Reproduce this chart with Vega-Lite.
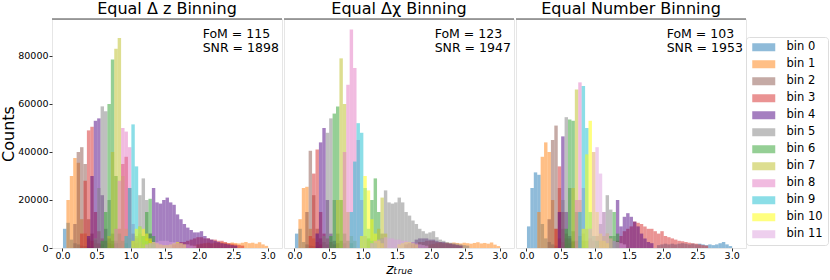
{
"$schema": "https://vega.github.io/schema/vega-lite/v6.json",
"background": "white",
"padding": {"left": 0, "top": 0, "right": 0, "bottom": 0},
"spacing": 0,
"config": {
  "font": "DejaVu Sans",
  "view": {"stroke": "#e6e6e6", "strokeWidth": 1},
  "title": {"fontSize": 16, "fontWeight": "normal", "color": "#000", "offset": 2, "anchor": "middle"},
  "axis": {"domain": false, "grid": false, "tickColor": "#333", "tickSize": 3, "labelFontSize": 9.5, "labelColor": "#000", "labelPadding": 1, "titleColor": "#000", "titleFontWeight": "normal"},
  "axisX": {"labelPadding": -1},
  "legend": {"orient": "none", "legendX": 694, "legendY": 18, "padding": 4.5, "strokeColor": "#dddddd", "cornerRadius": 3, "symbolType": "M-2.875,-1H2.875V1H-2.875Z", "symbolSize": 64, "symbolOpacity": 0.5, "symbolStrokeWidth": 0, "symbolOffset": 7.5, "labelFontSize": 11.5, "labelColor": "#000", "rowPadding": 4, "labelOffset": 17}
},
"datasets": {"h": [
{"p":0,"b":"bin 0","z":0.0,"c":8000},{"p":0,"b":"bin 0","z":0.05,"c":10500},{"p":0,"b":"bin 0","z":0.1,"c":3500},{"p":0,"b":"bin 0","z":0.15,"c":2000},{"p":0,"b":"bin 0","z":0.2,"c":1500},{"p":0,"b":"bin 0","z":0.25,"c":1000},{"p":0,"b":"bin 0","z":0.3,"c":800},{"p":0,"b":"bin 0","z":0.35,"c":600},{"p":0,"b":"bin 0","z":0.4,"c":500},
{"p":0,"b":"bin 1","z":0.05,"c":20000},{"p":0,"b":"bin 1","z":0.1,"c":30000},{"p":0,"b":"bin 1","z":0.15,"c":37500},{"p":0,"b":"bin 1","z":0.2,"c":35500},{"p":0,"b":"bin 1","z":0.25,"c":12000},{"p":0,"b":"bin 1","z":0.3,"c":6000},{"p":0,"b":"bin 1","z":0.35,"c":4000},{"p":0,"b":"bin 1","z":0.4,"c":3000},{"p":0,"b":"bin 1","z":0.45,"c":2000},{"p":0,"b":"bin 1","z":0.5,"c":1500},
{"p":0,"b":"bin 1","z":1.9,"c":1200},{"p":0,"b":"bin 1","z":1.95,"c":1500},{"p":0,"b":"bin 1","z":2.0,"c":1800},{"p":0,"b":"bin 1","z":2.05,"c":2000},{"p":0,"b":"bin 1","z":2.1,"c":2200},{"p":0,"b":"bin 1","z":2.15,"c":1900},{"p":0,"b":"bin 1","z":2.2,"c":2300},{"p":0,"b":"bin 1","z":2.25,"c":2100},{"p":0,"b":"bin 1","z":2.3,"c":2400},{"p":0,"b":"bin 1","z":2.35,"c":2200},{"p":0,"b":"bin 1","z":2.4,"c":2000},{"p":0,"b":"bin 1","z":2.45,"c":2300},{"p":0,"b":"bin 1","z":2.5,"c":2100},{"p":0,"b":"bin 1","z":2.55,"c":1900},{"p":0,"b":"bin 1","z":2.6,"c":2200},{"p":0,"b":"bin 1","z":2.65,"c":2500},{"p":0,"b":"bin 1","z":2.7,"c":2000},{"p":0,"b":"bin 1","z":2.75,"c":2200},{"p":0,"b":"bin 1","z":2.8,"c":1800},{"p":0,"b":"bin 1","z":2.85,"c":2400},{"p":0,"b":"bin 1","z":2.9,"c":1500},{"p":0,"b":"bin 1","z":2.95,"c":900},
{"p":0,"b":"bin 2","z":0.15,"c":10000},{"p":0,"b":"bin 2","z":0.2,"c":40000},{"p":0,"b":"bin 2","z":0.25,"c":42000},{"p":0,"b":"bin 2","z":0.3,"c":35000},{"p":0,"b":"bin 2","z":0.35,"c":12000},{"p":0,"b":"bin 2","z":0.4,"c":6000},{"p":0,"b":"bin 2","z":0.45,"c":3500},{"p":0,"b":"bin 2","z":0.5,"c":2000},{"p":0,"b":"bin 2","z":0.55,"c":1500},
{"p":0,"b":"bin 3","z":0.25,"c":6000},{"p":0,"b":"bin 3","z":0.3,"c":28000},{"p":0,"b":"bin 3","z":0.35,"c":49000},{"p":0,"b":"bin 3","z":0.4,"c":50500},{"p":0,"b":"bin 3","z":0.45,"c":15000},{"p":0,"b":"bin 3","z":0.5,"c":7000},{"p":0,"b":"bin 3","z":0.55,"c":4000},{"p":0,"b":"bin 3","z":0.6,"c":3000},{"p":0,"b":"bin 3","z":0.65,"c":2000},{"p":0,"b":"bin 3","z":0.7,"c":1500},
{"p":0,"b":"bin 3","z":0.8,"c":8000},{"p":0,"b":"bin 3","z":0.85,"c":35000},{"p":0,"b":"bin 3","z":0.9,"c":38000},{"p":0,"b":"bin 3","z":0.95,"c":25000},{"p":0,"b":"bin 3","z":1.0,"c":6000},{"p":0,"b":"bin 3","z":1.05,"c":2000},
{"p":0,"b":"bin 3","z":1.6,"c":1500},{"p":0,"b":"bin 3","z":1.65,"c":2000},{"p":0,"b":"bin 3","z":1.7,"c":2500},{"p":0,"b":"bin 3","z":1.75,"c":2500},{"p":0,"b":"bin 3","z":1.8,"c":3000},{"p":0,"b":"bin 3","z":1.85,"c":3500},{"p":0,"b":"bin 3","z":1.9,"c":4000},{"p":0,"b":"bin 3","z":1.95,"c":4500},{"p":0,"b":"bin 3","z":2.0,"c":4500},{"p":0,"b":"bin 3","z":2.05,"c":4000},{"p":0,"b":"bin 3","z":2.1,"c":4000},{"p":0,"b":"bin 3","z":2.15,"c":3500},{"p":0,"b":"bin 3","z":2.2,"c":3500},{"p":0,"b":"bin 3","z":2.25,"c":3000},{"p":0,"b":"bin 3","z":2.3,"c":3000},{"p":0,"b":"bin 3","z":2.35,"c":2500},{"p":0,"b":"bin 3","z":2.4,"c":2000},{"p":0,"b":"bin 3","z":2.45,"c":1800},{"p":0,"b":"bin 3","z":2.5,"c":1500},{"p":0,"b":"bin 3","z":2.55,"c":1200},{"p":0,"b":"bin 3","z":2.6,"c":1000},
{"p":0,"b":"bin 4","z":0.35,"c":5000},{"p":0,"b":"bin 4","z":0.4,"c":30000},{"p":0,"b":"bin 4","z":0.45,"c":53000},{"p":0,"b":"bin 4","z":0.5,"c":54000},{"p":0,"b":"bin 4","z":0.55,"c":22000},{"p":0,"b":"bin 4","z":0.6,"c":8000},{"p":0,"b":"bin 4","z":0.65,"c":4000},{"p":0,"b":"bin 4","z":0.7,"c":3000},{"p":0,"b":"bin 4","z":0.75,"c":2000},
{"p":0,"b":"bin 4","z":1.25,"c":6000},{"p":0,"b":"bin 4","z":1.3,"c":25000},{"p":0,"b":"bin 4","z":1.35,"c":19000},{"p":0,"b":"bin 4","z":1.4,"c":18500},{"p":0,"b":"bin 4","z":1.45,"c":20000},{"p":0,"b":"bin 4","z":1.5,"c":21000},{"p":0,"b":"bin 4","z":1.55,"c":19000},{"p":0,"b":"bin 4","z":1.6,"c":18000},{"p":0,"b":"bin 4","z":1.65,"c":14000},{"p":0,"b":"bin 4","z":1.7,"c":12000},{"p":0,"b":"bin 4","z":1.75,"c":10000},{"p":0,"b":"bin 4","z":1.8,"c":8500},{"p":0,"b":"bin 4","z":1.85,"c":7500},{"p":0,"b":"bin 4","z":1.9,"c":6500},{"p":0,"b":"bin 4","z":1.95,"c":6500},{"p":0,"b":"bin 4","z":2.0,"c":7000},{"p":0,"b":"bin 4","z":2.05,"c":5000},{"p":0,"b":"bin 4","z":2.1,"c":4000},{"p":0,"b":"bin 4","z":2.15,"c":3500},{"p":0,"b":"bin 4","z":2.2,"c":3000},{"p":0,"b":"bin 4","z":2.25,"c":2500},{"p":0,"b":"bin 4","z":2.3,"c":2000},{"p":0,"b":"bin 4","z":2.35,"c":1800},{"p":0,"b":"bin 4","z":2.4,"c":1500},{"p":0,"b":"bin 4","z":2.45,"c":1200},{"p":0,"b":"bin 4","z":2.5,"c":1000},
{"p":0,"b":"bin 5","z":0.45,"c":4000},{"p":0,"b":"bin 5","z":0.5,"c":25000},{"p":0,"b":"bin 5","z":0.55,"c":59000},{"p":0,"b":"bin 5","z":0.6,"c":57000},{"p":0,"b":"bin 5","z":0.65,"c":20000},{"p":0,"b":"bin 5","z":0.7,"c":6000},{"p":0,"b":"bin 5","z":0.75,"c":3000},{"p":0,"b":"bin 5","z":0.8,"c":2000},
{"p":0,"b":"bin 5","z":1.05,"c":5000},{"p":0,"b":"bin 5","z":1.1,"c":22000},{"p":0,"b":"bin 5","z":1.15,"c":29000},{"p":0,"b":"bin 5","z":1.2,"c":20000},{"p":0,"b":"bin 5","z":1.25,"c":6000},{"p":0,"b":"bin 5","z":1.3,"c":2000},
{"p":0,"b":"bin 6","z":0.55,"c":3000},{"p":0,"b":"bin 6","z":0.6,"c":15000},{"p":0,"b":"bin 6","z":0.65,"c":60000},{"p":0,"b":"bin 6","z":0.7,"c":78500},{"p":0,"b":"bin 6","z":0.75,"c":30000},{"p":0,"b":"bin 6","z":0.8,"c":6000},{"p":0,"b":"bin 6","z":0.85,"c":3000},{"p":0,"b":"bin 6","z":0.9,"c":2000},
{"p":0,"b":"bin 6","z":1.15,"c":5000},{"p":0,"b":"bin 6","z":1.2,"c":15000},{"p":0,"b":"bin 6","z":1.25,"c":20500},{"p":0,"b":"bin 6","z":1.3,"c":5000},
{"p":0,"b":"bin 7","z":0.65,"c":5000},{"p":0,"b":"bin 7","z":0.7,"c":40000},{"p":0,"b":"bin 7","z":0.75,"c":83000},{"p":0,"b":"bin 7","z":0.8,"c":87500},{"p":0,"b":"bin 7","z":0.85,"c":30000},{"p":0,"b":"bin 7","z":0.9,"c":8000},{"p":0,"b":"bin 7","z":0.95,"c":4000},{"p":0,"b":"bin 7","z":1.0,"c":3000},{"p":0,"b":"bin 7","z":1.05,"c":4000},{"p":0,"b":"bin 7","z":1.1,"c":6000},{"p":0,"b":"bin 7","z":1.15,"c":5000},{"p":0,"b":"bin 7","z":1.2,"c":4000},{"p":0,"b":"bin 7","z":1.25,"c":3000},
{"p":0,"b":"bin 8","z":0.75,"c":8000},{"p":0,"b":"bin 8","z":0.8,"c":28000},{"p":0,"b":"bin 8","z":0.85,"c":50000},{"p":0,"b":"bin 8","z":0.9,"c":48500},{"p":0,"b":"bin 8","z":0.95,"c":42000},{"p":0,"b":"bin 8","z":1.0,"c":10000},{"p":0,"b":"bin 8","z":1.05,"c":4000},{"p":0,"b":"bin 8","z":1.1,"c":2500},{"p":0,"b":"bin 8","z":1.15,"c":1500},
{"p":0,"b":"bin 9","z":0.9,"c":5000},{"p":0,"b":"bin 9","z":0.95,"c":25000},{"p":0,"b":"bin 9","z":1.0,"c":51500},{"p":0,"b":"bin 9","z":1.05,"c":34000},{"p":0,"b":"bin 9","z":1.1,"c":9000},{"p":0,"b":"bin 9","z":1.15,"c":5000},{"p":0,"b":"bin 9","z":1.2,"c":3000},{"p":0,"b":"bin 9","z":1.25,"c":2000},{"p":0,"b":"bin 9","z":1.3,"c":1500},
{"p":0,"b":"bin 10","z":1.0,"c":3000},{"p":0,"b":"bin 10","z":1.05,"c":8000},{"p":0,"b":"bin 10","z":1.1,"c":9000},{"p":0,"b":"bin 10","z":1.15,"c":8000},{"p":0,"b":"bin 10","z":1.2,"c":6000},{"p":0,"b":"bin 10","z":1.25,"c":4000},{"p":0,"b":"bin 10","z":1.3,"c":2500},{"p":0,"b":"bin 10","z":1.35,"c":2000},{"p":0,"b":"bin 10","z":1.4,"c":1500},{"p":0,"b":"bin 10","z":1.45,"c":1200},{"p":0,"b":"bin 10","z":1.5,"c":1200},{"p":0,"b":"bin 10","z":1.55,"c":1500},{"p":0,"b":"bin 10","z":1.6,"c":2000},{"p":0,"b":"bin 10","z":1.65,"c":2500},{"p":0,"b":"bin 10","z":1.7,"c":2000},{"p":0,"b":"bin 10","z":1.75,"c":1500},
{"p":0,"b":"bin 11","z":1.2,"c":1500},{"p":0,"b":"bin 11","z":1.25,"c":2000},{"p":0,"b":"bin 11","z":1.3,"c":2500},{"p":0,"b":"bin 11","z":1.35,"c":2500},{"p":0,"b":"bin 11","z":1.4,"c":3000},{"p":0,"b":"bin 11","z":1.45,"c":3000},{"p":0,"b":"bin 11","z":1.5,"c":3000},{"p":0,"b":"bin 11","z":1.55,"c":2500},{"p":0,"b":"bin 11","z":1.6,"c":2500},{"p":0,"b":"bin 11","z":1.65,"c":2000},{"p":0,"b":"bin 11","z":1.7,"c":2000},{"p":0,"b":"bin 11","z":1.75,"c":1500},{"p":0,"b":"bin 11","z":1.8,"c":1500},{"p":0,"b":"bin 11","z":1.85,"c":1000},{"p":0,"b":"bin 11","z":1.9,"c":1000},

{"p":1,"b":"bin 0","z":0.0,"c":6000},{"p":1,"b":"bin 0","z":0.05,"c":8000},{"p":1,"b":"bin 0","z":0.1,"c":2500},{"p":1,"b":"bin 0","z":0.15,"c":1500},{"p":1,"b":"bin 0","z":0.2,"c":1000},{"p":1,"b":"bin 0","z":0.25,"c":800},{"p":1,"b":"bin 0","z":0.3,"c":600},
{"p":1,"b":"bin 1","z":0.05,"c":12000},{"p":1,"b":"bin 1","z":0.1,"c":25000},{"p":1,"b":"bin 1","z":0.15,"c":25500},{"p":1,"b":"bin 1","z":0.2,"c":8000},{"p":1,"b":"bin 1","z":0.25,"c":4000},{"p":1,"b":"bin 1","z":0.3,"c":2500},{"p":1,"b":"bin 1","z":0.35,"c":1500},
{"p":1,"b":"bin 1","z":1.9,"c":1200},{"p":1,"b":"bin 1","z":1.95,"c":1500},{"p":1,"b":"bin 1","z":2.0,"c":1700},{"p":1,"b":"bin 1","z":2.05,"c":2000},{"p":1,"b":"bin 1","z":2.1,"c":2100},{"p":1,"b":"bin 1","z":2.15,"c":1900},{"p":1,"b":"bin 1","z":2.2,"c":2200},{"p":1,"b":"bin 1","z":2.25,"c":2000},{"p":1,"b":"bin 1","z":2.3,"c":2300},{"p":1,"b":"bin 1","z":2.35,"c":2100},{"p":1,"b":"bin 1","z":2.4,"c":1900},{"p":1,"b":"bin 1","z":2.45,"c":2200},{"p":1,"b":"bin 1","z":2.5,"c":2000},{"p":1,"b":"bin 1","z":2.55,"c":1800},{"p":1,"b":"bin 1","z":2.6,"c":2100},{"p":1,"b":"bin 1","z":2.65,"c":2400},{"p":1,"b":"bin 1","z":2.7,"c":1900},{"p":1,"b":"bin 1","z":2.75,"c":2100},{"p":1,"b":"bin 1","z":2.8,"c":1800},{"p":1,"b":"bin 1","z":2.85,"c":2300},{"p":1,"b":"bin 1","z":2.9,"c":1400},{"p":1,"b":"bin 1","z":2.95,"c":800},
{"p":1,"b":"bin 2","z":0.15,"c":15000},{"p":1,"b":"bin 2","z":0.2,"c":40500},{"p":1,"b":"bin 2","z":0.25,"c":22000},{"p":1,"b":"bin 2","z":0.3,"c":8000},{"p":1,"b":"bin 2","z":0.35,"c":4000},{"p":1,"b":"bin 2","z":0.4,"c":2500},{"p":1,"b":"bin 2","z":0.45,"c":1500},
{"p":1,"b":"bin 3","z":0.2,"c":5000},{"p":1,"b":"bin 3","z":0.25,"c":31000},{"p":1,"b":"bin 3","z":0.3,"c":41000},{"p":1,"b":"bin 3","z":0.35,"c":15000},{"p":1,"b":"bin 3","z":0.4,"c":6000},{"p":1,"b":"bin 3","z":0.45,"c":4000},{"p":1,"b":"bin 3","z":0.5,"c":2500},{"p":1,"b":"bin 3","z":0.55,"c":1500},
{"p":1,"b":"bin 3","z":1.7,"c":1500},{"p":1,"b":"bin 3","z":1.75,"c":2000},{"p":1,"b":"bin 3","z":1.8,"c":2500},{"p":1,"b":"bin 3","z":1.85,"c":2500},{"p":1,"b":"bin 3","z":1.9,"c":3000},{"p":1,"b":"bin 3","z":1.95,"c":3000},{"p":1,"b":"bin 3","z":2.0,"c":3000},{"p":1,"b":"bin 3","z":2.05,"c":2500},{"p":1,"b":"bin 3","z":2.1,"c":2500},{"p":1,"b":"bin 3","z":2.15,"c":2200},{"p":1,"b":"bin 3","z":2.2,"c":2000},{"p":1,"b":"bin 3","z":2.25,"c":1800},{"p":1,"b":"bin 3","z":2.3,"c":1500},{"p":1,"b":"bin 3","z":2.35,"c":1200},{"p":1,"b":"bin 3","z":2.4,"c":1000},
{"p":1,"b":"bin 4","z":0.3,"c":6000},{"p":1,"b":"bin 4","z":0.35,"c":44000},{"p":1,"b":"bin 4","z":0.4,"c":50000},{"p":1,"b":"bin 4","z":0.45,"c":20000},{"p":1,"b":"bin 4","z":0.5,"c":6000},{"p":1,"b":"bin 4","z":0.55,"c":3000},{"p":1,"b":"bin 4","z":0.6,"c":2000},
{"p":1,"b":"bin 4","z":1.6,"c":1500},{"p":1,"b":"bin 4","z":1.65,"c":2000},{"p":1,"b":"bin 4","z":1.7,"c":2500},{"p":1,"b":"bin 4","z":1.75,"c":3500},{"p":1,"b":"bin 4","z":1.8,"c":4000},{"p":1,"b":"bin 4","z":1.85,"c":4000},{"p":1,"b":"bin 4","z":1.9,"c":4000},{"p":1,"b":"bin 4","z":1.95,"c":3500},{"p":1,"b":"bin 4","z":2.0,"c":3500},{"p":1,"b":"bin 4","z":2.05,"c":3000},{"p":1,"b":"bin 4","z":2.1,"c":2500},{"p":1,"b":"bin 4","z":2.15,"c":2500},{"p":1,"b":"bin 4","z":2.2,"c":2000},{"p":1,"b":"bin 4","z":2.25,"c":1800},{"p":1,"b":"bin 4","z":2.3,"c":1500},{"p":1,"b":"bin 4","z":2.35,"c":1200},{"p":1,"b":"bin 4","z":2.4,"c":1000},
{"p":1,"b":"bin 5","z":0.4,"c":5000},{"p":1,"b":"bin 5","z":0.45,"c":48000},{"p":1,"b":"bin 5","z":0.5,"c":54000},{"p":1,"b":"bin 5","z":0.55,"c":20000},{"p":1,"b":"bin 5","z":0.6,"c":6000},{"p":1,"b":"bin 5","z":0.65,"c":3000},{"p":1,"b":"bin 5","z":0.7,"c":2000},
{"p":1,"b":"bin 5","z":1.25,"c":6000},{"p":1,"b":"bin 5","z":1.3,"c":24000},{"p":1,"b":"bin 5","z":1.35,"c":19000},{"p":1,"b":"bin 5","z":1.4,"c":18500},{"p":1,"b":"bin 5","z":1.45,"c":19000},{"p":1,"b":"bin 5","z":1.5,"c":21000},{"p":1,"b":"bin 5","z":1.55,"c":19000},{"p":1,"b":"bin 5","z":1.6,"c":15000},{"p":1,"b":"bin 5","z":1.65,"c":13500},{"p":1,"b":"bin 5","z":1.7,"c":11500},{"p":1,"b":"bin 5","z":1.75,"c":10000},{"p":1,"b":"bin 5","z":1.8,"c":8000},{"p":1,"b":"bin 5","z":1.85,"c":7000},{"p":1,"b":"bin 5","z":1.9,"c":6000},{"p":1,"b":"bin 5","z":1.95,"c":6500},{"p":1,"b":"bin 5","z":2.0,"c":7000},{"p":1,"b":"bin 5","z":2.05,"c":4500},{"p":1,"b":"bin 5","z":2.1,"c":3500},{"p":1,"b":"bin 5","z":2.15,"c":3000},{"p":1,"b":"bin 5","z":2.2,"c":2500},{"p":1,"b":"bin 5","z":2.25,"c":2200},{"p":1,"b":"bin 5","z":2.3,"c":2000},{"p":1,"b":"bin 5","z":2.35,"c":1800},{"p":1,"b":"bin 5","z":2.4,"c":1500},{"p":1,"b":"bin 5","z":2.45,"c":1200},{"p":1,"b":"bin 5","z":2.5,"c":1000},
{"p":1,"b":"bin 6","z":0.5,"c":5000},{"p":1,"b":"bin 6","z":0.55,"c":56000},{"p":1,"b":"bin 6","z":0.6,"c":59000},{"p":1,"b":"bin 6","z":0.65,"c":20000},{"p":1,"b":"bin 6","z":0.7,"c":6000},{"p":1,"b":"bin 6","z":0.75,"c":3000},{"p":1,"b":"bin 6","z":0.8,"c":2000},
{"p":1,"b":"bin 6","z":1.05,"c":4000},{"p":1,"b":"bin 6","z":1.1,"c":20000},{"p":1,"b":"bin 6","z":1.15,"c":29000},{"p":1,"b":"bin 6","z":1.2,"c":15000},{"p":1,"b":"bin 6","z":1.25,"c":4000},
{"p":1,"b":"bin 7","z":0.6,"c":20000},{"p":1,"b":"bin 7","z":0.65,"c":79000},{"p":1,"b":"bin 7","z":0.7,"c":60000},{"p":1,"b":"bin 7","z":0.75,"c":15000},{"p":1,"b":"bin 7","z":0.8,"c":5000},{"p":1,"b":"bin 7","z":0.85,"c":3000},
{"p":1,"b":"bin 7","z":1.15,"c":3000},{"p":1,"b":"bin 7","z":1.2,"c":8000},{"p":1,"b":"bin 7","z":1.25,"c":21000},{"p":1,"b":"bin 7","z":1.3,"c":6000},
{"p":1,"b":"bin 8","z":0.7,"c":40000},{"p":1,"b":"bin 8","z":0.75,"c":68000},{"p":1,"b":"bin 8","z":0.8,"c":91000},{"p":1,"b":"bin 8","z":0.85,"c":75000},{"p":1,"b":"bin 8","z":0.9,"c":45000},{"p":1,"b":"bin 8","z":0.95,"c":20000},{"p":1,"b":"bin 8","z":1.0,"c":5000},{"p":1,"b":"bin 8","z":1.05,"c":3000},{"p":1,"b":"bin 8","z":1.1,"c":2000},
{"p":1,"b":"bin 9","z":0.8,"c":15000},{"p":1,"b":"bin 9","z":0.85,"c":36000},{"p":1,"b":"bin 9","z":0.9,"c":52000},{"p":1,"b":"bin 9","z":0.95,"c":48000},{"p":1,"b":"bin 9","z":1.0,"c":25000},{"p":1,"b":"bin 9","z":1.05,"c":8000},{"p":1,"b":"bin 9","z":1.1,"c":3000},{"p":1,"b":"bin 9","z":1.15,"c":2000},
{"p":1,"b":"bin 10","z":0.95,"c":5000},{"p":1,"b":"bin 10","z":1.0,"c":30000},{"p":1,"b":"bin 10","z":1.05,"c":24000},{"p":1,"b":"bin 10","z":1.1,"c":12000},{"p":1,"b":"bin 10","z":1.15,"c":6000},{"p":1,"b":"bin 10","z":1.2,"c":3000},{"p":1,"b":"bin 10","z":1.25,"c":2000},{"p":1,"b":"bin 10","z":1.5,"c":1500},{"p":1,"b":"bin 10","z":1.55,"c":2000},{"p":1,"b":"bin 10","z":1.6,"c":2500},{"p":1,"b":"bin 10","z":1.65,"c":2500},{"p":1,"b":"bin 10","z":1.7,"c":2000},{"p":1,"b":"bin 10","z":1.75,"c":1500},
{"p":1,"b":"bin 11","z":1.1,"c":2000},{"p":1,"b":"bin 11","z":1.15,"c":3000},{"p":1,"b":"bin 11","z":1.2,"c":3500},{"p":1,"b":"bin 11","z":1.25,"c":4000},{"p":1,"b":"bin 11","z":1.3,"c":4500},{"p":1,"b":"bin 11","z":1.35,"c":4000},{"p":1,"b":"bin 11","z":1.4,"c":4000},{"p":1,"b":"bin 11","z":1.45,"c":3500},{"p":1,"b":"bin 11","z":1.5,"c":3500},{"p":1,"b":"bin 11","z":1.55,"c":3000},{"p":1,"b":"bin 11","z":1.6,"c":3000},{"p":1,"b":"bin 11","z":1.65,"c":2500},{"p":1,"b":"bin 11","z":1.7,"c":2500},{"p":1,"b":"bin 11","z":1.75,"c":2000},{"p":1,"b":"bin 11","z":1.8,"c":1500},{"p":1,"b":"bin 11","z":1.85,"c":1200},{"p":1,"b":"bin 11","z":1.9,"c":1000},

{"p":2,"b":"bin 0","z":0.0,"c":9000},{"p":2,"b":"bin 0","z":0.05,"c":25000},{"p":2,"b":"bin 0","z":0.1,"c":31500},{"p":2,"b":"bin 0","z":0.15,"c":30500},{"p":2,"b":"bin 0","z":0.2,"c":10000},{"p":2,"b":"bin 0","z":0.25,"c":4000},{"p":2,"b":"bin 0","z":0.3,"c":2500},{"p":2,"b":"bin 0","z":0.35,"c":1500},{"p":2,"b":"bin 0","z":0.4,"c":1000},
{"p":2,"b":"bin 0","z":1.9,"c":1200},{"p":2,"b":"bin 0","z":1.95,"c":1500},{"p":2,"b":"bin 0","z":2.0,"c":1800},{"p":2,"b":"bin 0","z":2.05,"c":1500},{"p":2,"b":"bin 0","z":2.1,"c":1800},{"p":2,"b":"bin 0","z":2.15,"c":1500},{"p":2,"b":"bin 0","z":2.2,"c":1800},{"p":2,"b":"bin 0","z":2.25,"c":2000},{"p":2,"b":"bin 0","z":2.3,"c":1800},{"p":2,"b":"bin 0","z":2.35,"c":1500},{"p":2,"b":"bin 0","z":2.4,"c":1800},{"p":2,"b":"bin 0","z":2.45,"c":1500},{"p":2,"b":"bin 0","z":2.5,"c":1800},{"p":2,"b":"bin 0","z":2.55,"c":1500},{"p":2,"b":"bin 0","z":2.6,"c":1200},{"p":2,"b":"bin 0","z":2.65,"c":1500},{"p":2,"b":"bin 0","z":2.7,"c":1200},{"p":2,"b":"bin 0","z":2.75,"c":1500},{"p":2,"b":"bin 0","z":2.8,"c":2000},{"p":2,"b":"bin 0","z":2.85,"c":2500},{"p":2,"b":"bin 0","z":2.9,"c":1500},{"p":2,"b":"bin 0","z":2.95,"c":800},
{"p":2,"b":"bin 1","z":0.15,"c":15000},{"p":2,"b":"bin 1","z":0.2,"c":38000},{"p":2,"b":"bin 1","z":0.25,"c":44000},{"p":2,"b":"bin 1","z":0.3,"c":40000},{"p":2,"b":"bin 1","z":0.35,"c":20000},{"p":2,"b":"bin 1","z":0.4,"c":8000},{"p":2,"b":"bin 1","z":0.45,"c":4000},{"p":2,"b":"bin 1","z":0.5,"c":2500},{"p":2,"b":"bin 1","z":0.55,"c":1500},
{"p":2,"b":"bin 2","z":0.3,"c":12000},{"p":2,"b":"bin 2","z":0.35,"c":45000},{"p":2,"b":"bin 2","z":0.4,"c":51000},{"p":2,"b":"bin 2","z":0.45,"c":25000},{"p":2,"b":"bin 2","z":0.5,"c":8000},{"p":2,"b":"bin 2","z":0.55,"c":4000},{"p":2,"b":"bin 2","z":0.6,"c":2000},
{"p":2,"b":"bin 3","z":0.4,"c":8000},{"p":2,"b":"bin 3","z":0.45,"c":34000},{"p":2,"b":"bin 3","z":0.5,"c":15000},{"p":2,"b":"bin 3","z":0.55,"c":6000},{"p":2,"b":"bin 3","z":0.6,"c":4000},{"p":2,"b":"bin 3","z":0.65,"c":2500},
{"p":2,"b":"bin 3","z":1.3,"c":3000},{"p":2,"b":"bin 3","z":1.35,"c":5000},{"p":2,"b":"bin 3","z":1.4,"c":7000},{"p":2,"b":"bin 3","z":1.45,"c":8000},{"p":2,"b":"bin 3","z":1.5,"c":9000},{"p":2,"b":"bin 3","z":1.55,"c":11000},{"p":2,"b":"bin 3","z":1.6,"c":10500},{"p":2,"b":"bin 3","z":1.65,"c":10000},{"p":2,"b":"bin 3","z":1.7,"c":9000},{"p":2,"b":"bin 3","z":1.75,"c":8000},{"p":2,"b":"bin 3","z":1.8,"c":8000},{"p":2,"b":"bin 3","z":1.85,"c":7000},{"p":2,"b":"bin 3","z":1.9,"c":6000},{"p":2,"b":"bin 3","z":1.95,"c":7000},{"p":2,"b":"bin 3","z":2.0,"c":5000},{"p":2,"b":"bin 3","z":2.05,"c":4500},{"p":2,"b":"bin 3","z":2.1,"c":4000},{"p":2,"b":"bin 3","z":2.15,"c":3500},{"p":2,"b":"bin 3","z":2.2,"c":3000},{"p":2,"b":"bin 3","z":2.25,"c":2800},{"p":2,"b":"bin 3","z":2.3,"c":2500},{"p":2,"b":"bin 3","z":2.35,"c":2200},{"p":2,"b":"bin 3","z":2.4,"c":2000},{"p":2,"b":"bin 3","z":2.45,"c":1800},{"p":2,"b":"bin 3","z":2.5,"c":1500},{"p":2,"b":"bin 3","z":2.55,"c":1200},{"p":2,"b":"bin 3","z":2.6,"c":1000},
{"p":2,"b":"bin 4","z":0.45,"c":15000},{"p":2,"b":"bin 4","z":0.5,"c":46500},{"p":2,"b":"bin 4","z":0.55,"c":15000},{"p":2,"b":"bin 4","z":0.6,"c":5000},{"p":2,"b":"bin 4","z":0.65,"c":3000},
{"p":2,"b":"bin 4","z":1.25,"c":3000},{"p":2,"b":"bin 4","z":1.3,"c":20000},{"p":2,"b":"bin 4","z":1.35,"c":9000},{"p":2,"b":"bin 4","z":1.4,"c":13000},{"p":2,"b":"bin 4","z":1.45,"c":14500},{"p":2,"b":"bin 4","z":1.5,"c":13000},{"p":2,"b":"bin 4","z":1.55,"c":11000},{"p":2,"b":"bin 4","z":1.6,"c":9000},{"p":2,"b":"bin 4","z":1.65,"c":6000},{"p":2,"b":"bin 4","z":1.7,"c":4000},{"p":2,"b":"bin 4","z":1.75,"c":2500},{"p":2,"b":"bin 4","z":1.8,"c":2000},
{"p":2,"b":"bin 5","z":0.5,"c":20000},{"p":2,"b":"bin 5","z":0.55,"c":54500},{"p":2,"b":"bin 5","z":0.6,"c":25000},{"p":2,"b":"bin 5","z":0.65,"c":7000},{"p":2,"b":"bin 5","z":0.7,"c":3000},
{"p":2,"b":"bin 5","z":1.0,"c":5000},{"p":2,"b":"bin 5","z":1.05,"c":10000},{"p":2,"b":"bin 5","z":1.1,"c":15000},{"p":2,"b":"bin 5","z":1.15,"c":22000},{"p":2,"b":"bin 5","z":1.2,"c":16000},{"p":2,"b":"bin 5","z":1.25,"c":5000},
{"p":2,"b":"bin 6","z":0.55,"c":8000},{"p":2,"b":"bin 6","z":0.6,"c":53500},{"p":2,"b":"bin 6","z":0.65,"c":53000},{"p":2,"b":"bin 6","z":0.7,"c":15000},{"p":2,"b":"bin 6","z":0.75,"c":5000},{"p":2,"b":"bin 6","z":0.8,"c":3000},
{"p":2,"b":"bin 6","z":1.2,"c":5000},{"p":2,"b":"bin 6","z":1.25,"c":15000},{"p":2,"b":"bin 6","z":1.3,"c":6000},
{"p":2,"b":"bin 7","z":0.65,"c":25000},{"p":2,"b":"bin 7","z":0.7,"c":66000},{"p":2,"b":"bin 7","z":0.75,"c":20000},{"p":2,"b":"bin 7","z":0.8,"c":6000},{"p":2,"b":"bin 7","z":0.85,"c":3000},{"p":2,"b":"bin 7","z":1.05,"c":3000},{"p":2,"b":"bin 7","z":1.1,"c":5000},{"p":2,"b":"bin 7","z":1.15,"c":6000},{"p":2,"b":"bin 7","z":1.2,"c":4000},
{"p":2,"b":"bin 8","z":0.7,"c":20000},{"p":2,"b":"bin 8","z":0.75,"c":69000},{"p":2,"b":"bin 8","z":0.8,"c":25000},{"p":2,"b":"bin 8","z":0.85,"c":8000},{"p":2,"b":"bin 8","z":0.9,"c":4000},{"p":2,"b":"bin 8","z":0.95,"c":3000},
{"p":2,"b":"bin 9","z":0.75,"c":15000},{"p":2,"b":"bin 9","z":0.8,"c":67500},{"p":2,"b":"bin 9","z":0.85,"c":50000},{"p":2,"b":"bin 9","z":0.9,"c":15000},{"p":2,"b":"bin 9","z":0.95,"c":5000},{"p":2,"b":"bin 9","z":1.0,"c":3000},
{"p":2,"b":"bin 10","z":0.8,"c":8000},{"p":2,"b":"bin 10","z":0.85,"c":39000},{"p":2,"b":"bin 10","z":0.9,"c":53000},{"p":2,"b":"bin 10","z":0.95,"c":40000},{"p":2,"b":"bin 10","z":1.0,"c":15000},{"p":2,"b":"bin 10","z":1.05,"c":6000},{"p":2,"b":"bin 10","z":1.1,"c":3000},{"p":2,"b":"bin 10","z":1.15,"c":2000},
{"p":2,"b":"bin 11","z":0.9,"c":8000},{"p":2,"b":"bin 11","z":0.95,"c":40000},{"p":2,"b":"bin 11","z":1.0,"c":42000},{"p":2,"b":"bin 11","z":1.05,"c":31000},{"p":2,"b":"bin 11","z":1.1,"c":15000},{"p":2,"b":"bin 11","z":1.15,"c":6000},{"p":2,"b":"bin 11","z":1.2,"c":4000},{"p":2,"b":"bin 11","z":1.25,"c":3000},{"p":2,"b":"bin 11","z":1.3,"c":2500},{"p":2,"b":"bin 11","z":1.35,"c":2000},{"p":2,"b":"bin 11","z":1.4,"c":1500}
]},
"hconcat": [
 {"width": 230, "height": 229, "title": "Equal Δ z Binning",
  "layer": [
   {"data": {"name": "h"}, "transform": [{"filter": "datum.p == 0"}],
    "mark": {"type": "bar", "opacity": 0.5, "binSpacing": 0},
    "encoding": {
     "x": {"field": "z", "type": "quantitative", "bin": {"binned": true, "step": 0.05}, "scale": {"domain": [-0.153, 3.21], "nice": false, "zero": false}, "axis": {"values": [0, 0.5, 1, 1.5, 2, 2.5, 3], "format": ".1f", "title": null}},
     "y": {"field": "c", "type": "quantitative", "stack": null, "scale": {"domain": [0, 95400], "nice": false}, "axis": {"values": [0, 20000, 40000, 60000, 80000], "format": "d", "title": "Counts", "titleFontSize": 16, "titlePadding": 1}},
     "color": {"field": "b", "type": "nominal", "scale": {"domain": ["bin 0","bin 1","bin 2","bin 3","bin 4","bin 5","bin 6","bin 7","bin 8","bin 9","bin 10","bin 11"], "range": ["#1f77b4","#ff7f0e","#8c564b","#d62728","#4b0082","#7f7f7f","#2ca02c","#bcbd22","#e377c2","#17becf","#ffff00","#dda0dd"]}, "legend": {"title": null}}
    }},
   {"data": {"values": [{}]}, "mark": {"type": "rule", "color": "#444", "strokeWidth": 1}, "encoding": {"y": {"datum": 95400}}},
   {"data": {"values": [{}]}, "mark": {"type": "text", "align": "left", "baseline": "middle", "fontSize": 12.5}, "encoding": {"x": {"datum": 2.05}, "y": {"datum": 89300}, "text": {"value": "FoM = 115"}}},
   {"data": {"values": [{}]}, "mark": {"type": "text", "align": "left", "baseline": "middle", "fontSize": 12.5}, "encoding": {"x": {"datum": 2.05}, "y": {"datum": 83300}, "text": {"value": "SNR = 1898"}}}
  ]},
 {"width": 230, "height": 229, "title": "Equal Δχ Binning",
  "layer": [
   {"data": {"name": "h"}, "transform": [{"filter": "datum.p == 1"}],
    "mark": {"type": "bar", "opacity": 0.5, "binSpacing": 0},
    "encoding": {
     "x": {"field": "z", "type": "quantitative", "bin": {"binned": true, "step": 0.05}, "scale": {"domain": [-0.153, 3.21], "nice": false, "zero": false}, "axis": {"values": [0, 0.5, 1, 1.5, 2, 2.5, 3], "format": ".1f", "title": "zₜᵣᵤₑ", "titleFontSize": 14, "titleFontStyle": "italic", "titlePadding": 3}},
     "y": {"field": "c", "type": "quantitative", "stack": null, "scale": {"domain": [0, 95400], "nice": false}, "axis": null},
     "color": {"field": "b", "type": "nominal", "legend": {"title": null}}
    }},
   {"data": {"values": [{}]}, "mark": {"type": "rule", "color": "#444", "strokeWidth": 1}, "encoding": {"y": {"datum": 95400}}},
   {"data": {"values": [{}]}, "mark": {"type": "text", "align": "left", "baseline": "middle", "fontSize": 12.5}, "encoding": {"x": {"datum": 2.05}, "y": {"datum": 89300}, "text": {"value": "FoM = 123"}}},
   {"data": {"values": [{}]}, "mark": {"type": "text", "align": "left", "baseline": "middle", "fontSize": 12.5}, "encoding": {"x": {"datum": 2.05}, "y": {"datum": 83300}, "text": {"value": "SNR = 1947"}}}
  ]},
 {"width": 230, "height": 229, "title": "Equal Number Binning",
  "layer": [
   {"data": {"name": "h"}, "transform": [{"filter": "datum.p == 2"}],
    "mark": {"type": "bar", "opacity": 0.5, "binSpacing": 0},
    "encoding": {
     "x": {"field": "z", "type": "quantitative", "bin": {"binned": true, "step": 0.05}, "scale": {"domain": [-0.153, 3.21], "nice": false, "zero": false}, "axis": {"values": [0, 0.5, 1, 1.5, 2, 2.5, 3], "format": ".1f", "title": null}},
     "y": {"field": "c", "type": "quantitative", "stack": null, "scale": {"domain": [0, 95400], "nice": false}, "axis": null},
     "color": {"field": "b", "type": "nominal", "legend": {"title": null}}
    }},
   {"data": {"values": [{}]}, "mark": {"type": "rule", "color": "#444", "strokeWidth": 1}, "encoding": {"y": {"datum": 95400}}},
   {"data": {"values": [{}]}, "mark": {"type": "text", "align": "left", "baseline": "middle", "fontSize": 12.5}, "encoding": {"x": {"datum": 2.05}, "y": {"datum": 89300}, "text": {"value": "FoM = 103"}}},
   {"data": {"values": [{}]}, "mark": {"type": "text", "align": "left", "baseline": "middle", "fontSize": 12.5}, "encoding": {"x": {"datum": 2.05}, "y": {"datum": 83300}, "text": {"value": "SNR = 1953"}}}
  ]}
],
"resolve": {"scale": {"color": "shared"}}
}
